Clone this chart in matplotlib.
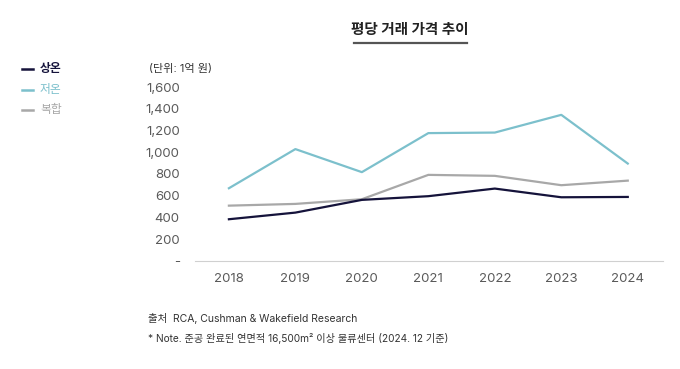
import matplotlib
matplotlib.use('Agg')
import matplotlib.pyplot as plt

plt.rcParams['font.family'] = ['Inter', 'Noto Sans CJK KR', 'DejaVu Sans']

years = [2018, 2019, 2020, 2021, 2022, 2023, 2024]
ambient = [384, 445, 562, 596, 666, 586, 589]     # 상온
cold = [669, 1029, 817, 1176, 1181, 1344, 896]    # 저온
mixed = [509, 525, 568, 792, 783, 697, 739]       # 복합
yticks = [0, 200, 400, 600, 800, 1000, 1200, 1400, 1600]
ytick_labels = ['-', '200', '400', '600', '800', '1,000', '1,200', '1,400', '1,600']

c_amb = '#15133b'
c_cold = '#7cc0cc'
c_mix = '#a8a8a8'

fig = plt.figure(figsize=(6.8, 3.69), dpi=100)
W, H = 680, 369
ax = fig.add_axes([195 / W, (H - 261) / H, (663 - 195) / W, (261 - 87) / H])

ax.plot(years, cold, color=c_cold, lw=1.6, clip_on=False)
ax.plot(years, mixed, color=c_mix, lw=1.6, clip_on=False)
ax.plot(years, ambient, color=c_amb, lw=1.6, clip_on=False)

ax.set_xlim(2017.49, 2024.53)
ax.set_ylim(0, 1600)
ax.set_xticks(years)
ax.set_xticklabels([str(y) for y in years])
ax.set_yticks(yticks)
ax.set_yticklabels(ytick_labels)
ax.tick_params(length=0, colors='#5a5a5a', labelsize=9.5)
ax.tick_params(axis='y', pad=11)
ax.tick_params(axis='x', pad=9)
for s in ['top', 'right', 'left']:
    ax.spines[s].set_visible(False)
ax.spines['bottom'].set_color('#d0d0d0')
ax.spines['bottom'].set_linewidth(0.8)

# title with underline
fig.text(410 / W, 1 - 30 / H, '평당 거래 가격 추이', ha='center', va='center',
         fontsize=10.5, fontweight='bold', color='#222222')
fig.add_artist(plt.Line2D([354 / W, 467 / W], [1 - 43 / H, 1 - 43 / H],
                          color='#555555', lw=1.6))

# unit
fig.text(149 / W, 1 - 69 / H, '(단위: 1억 원)', ha='left', va='center',
         fontsize=8, color='#333333')

# legend
for i, (name, col) in enumerate([('상온', c_amb), ('저온', c_cold), ('복합', c_mix)]):
    y = 1 - (69 + i * 20.5) / H
    fig.add_artist(plt.Line2D([22 / W, 33 / W], [y, y], color=col, lw=1.8))
    fig.text(40 / W, y, name, ha='left', va='center', fontsize=8.5, color=col,
             fontweight='bold' if i == 0 else 'normal')

# notes
fig.text(148 / W, 1 - 318 / H, '출처  RCA, Cushman & Wakefield Research',
         ha='left', va='center', fontsize=7.5, color='#333333')
fig.text(148 / W, 1 - 339 / H, '* Note. 준공 완료된 연면적 16,500m² 이상 물류센터 (2024. 12 기준)',
         ha='left', va='center', fontsize=7.3, color='#333333')

fig.savefig('out.png', dpi=100)
